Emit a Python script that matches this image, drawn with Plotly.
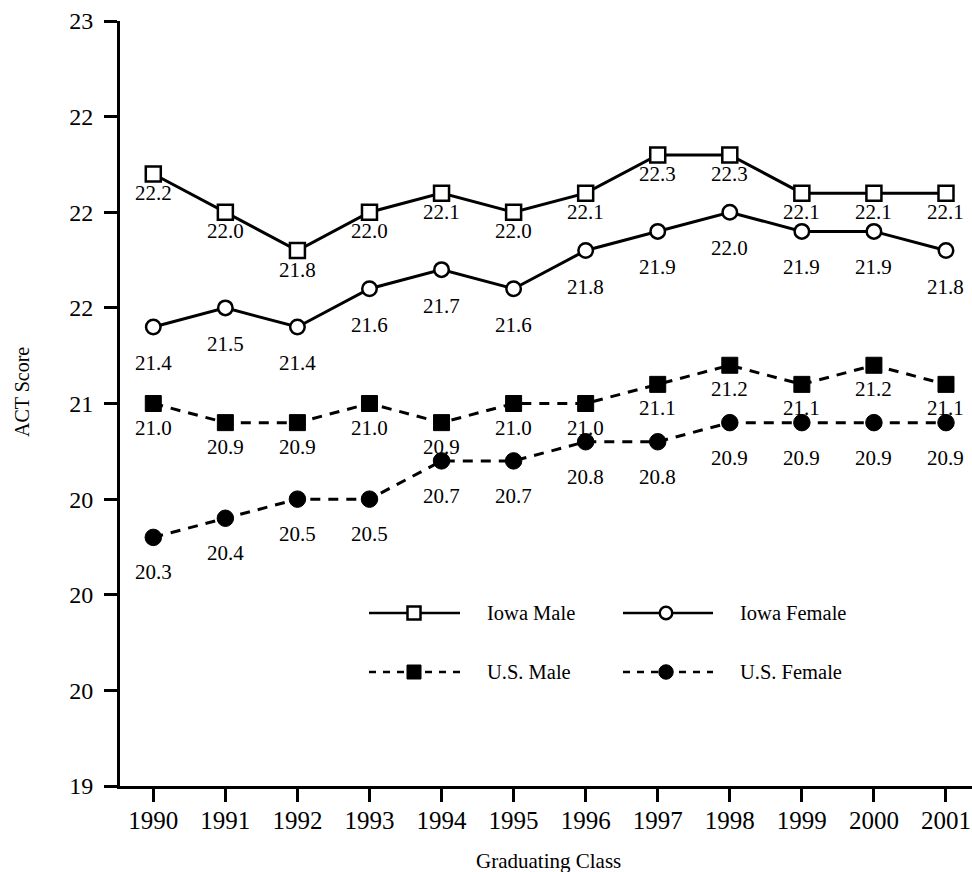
import plotly.graph_objects as go

# ---------------- data ----------------
years = [1990, 1991, 1992, 1993, 1994, 1995, 1996, 1997, 1998, 1999, 2000, 2001]
iowa_male = [22.2, 22.0, 21.8, 22.0, 22.1, 22.0, 22.1, 22.3, 22.3, 22.1, 22.1, 22.1]
iowa_female = [21.4, 21.5, 21.4, 21.6, 21.7, 21.6, 21.8, 21.9, 22.0, 21.9, 21.9, 21.8]
us_male = [21.0, 20.9, 20.9, 21.0, 20.9, 21.0, 21.0, 21.1, 21.2, 21.1, 21.2, 21.1]
us_female = [20.3, 20.4, 20.5, 20.5, 20.7, 20.7, 20.8, 20.8, 20.9, 20.9, 20.9, 20.9]

y_tick_vals = [19, 19.5, 20, 20.5, 21, 21.5, 22, 22.5, 23]
y_tick_text = ["19", "20", "20", "20", "21", "22", "22", "22", "23"]
x_tick_text = [str(y) for y in years]

series_names = ["Iowa Male", "Iowa Female", "U.S. Male", "U.S. Female"]

# ---------------- layout constants ----------------
W, H = 972, 872
PL, PR, PT, PB = 120, 972, 21, 786   # plot area on screen
ML, MT = PL, PT
MR = W - PR
MB = H - PB
FONT = "Liberation Serif, Times New Roman, serif"
X_RANGE = [1989.538, 2001.361]
Y_RANGE = [19, 23]


def paper_x(sx):
    return (sx - PL) / (PR - PL)


def paper_y(sy):
    return (PB - sy) / (PB - PT)


styles = [
    dict(dash="solid", symbol="square", fill="white", size=15, lw=2.5, shift=19),
    dict(dash="solid", symbol="circle", fill="white", size=14.5, lw=2.5, shift=36),
    dict(dash="10px,8px", symbol="square", fill="black", size=16, lw=1, shift=24),
    dict(dash="10px,8px", symbol="circle", fill="black", size=16.5, lw=1, shift=35),
]
series_vals = [iowa_male, iowa_female, us_male, us_female]

fig = go.Figure()

annotations = []
for name, vals, st in zip(series_names, series_vals, styles):
    fig.add_trace(go.Scatter(
        x=years, y=vals, mode="lines+markers", name=name, showlegend=False,
        line=dict(color="black", width=3, dash=st["dash"]),
        marker=dict(symbol=st["symbol"], size=st["size"], color=st["fill"],
                    line=dict(color="black", width=st["lw"])),
        cliponaxis=False,
    ))
    for xv, yv in zip(years, vals):
        annotations.append(dict(
            x=xv, y=yv, xref="x", yref="y", text=f"{yv:.1f}", showarrow=False,
            yshift=-st["shift"], xanchor="center", yanchor="middle",
            font=dict(family=FONT, size=21, color="black"),
        ))

# ---------------- custom legend (screen pixel coordinates on overlay axes) ----------------
leg_rows = [613, 672]
leg_cols = [(369, 414, 460, 485), (623, 666, 713, 738)]
for i, (name, st) in enumerate(zip(series_names, styles)):
    row = leg_rows[i // 2]
    x0, xm, x1, xt = leg_cols[i % 2]
    fig.add_trace(go.Scatter(
        x=[x0, x1], y=[row, row], xaxis="x2", yaxis="y2", mode="lines",
        line=dict(color="black", width=2.5,
                  dash="solid" if st["dash"] == "solid" else "7px,7px"),
        showlegend=False, hoverinfo="skip",
    ))
    fig.add_trace(go.Scatter(
        x=[xm], y=[row], xaxis="x2", yaxis="y2", mode="markers",
        marker=dict(symbol=st["symbol"], size=st["size"] - 2, color=st["fill"],
                    line=dict(color="black", width=st["lw"])),
        showlegend=False, hoverinfo="skip",
    ))
    annotations.append(dict(
        x=xt, y=row, xref="x2", yref="y2", text=name, showarrow=False,
        xanchor="left", yanchor="middle",
        font=dict(family=FONT, size=20.5, color="black"),
    ))

# axis titles
annotations.append(dict(
    x=paper_x(548), y=paper_y(861), xref="paper", yref="paper", text="Graduating Class",
    showarrow=False, xanchor="center", yanchor="middle",
    font=dict(family=FONT, size=21, color="black"),
))
annotations.append(dict(
    x=paper_x(22), y=paper_y(392), xref="paper", yref="paper", text="ACT Score",
    showarrow=False, textangle=-90, xanchor="center", yanchor="middle",
    font=dict(family=FONT, size=20, color="black"),
))

fig.update_layout(
    width=W, height=H,
    margin=dict(l=ML, r=MR, t=MT, b=MB, pad=0),
    paper_bgcolor="white", plot_bgcolor="white",
    font=dict(family=FONT, color="black"),
    annotations=annotations,
    xaxis=dict(
        range=X_RANGE, tickmode="array", tickvals=years, ticktext=x_tick_text,
        showgrid=False, zeroline=False, showline=True, linecolor="black", linewidth=3,
        ticks="outside", ticklen=13, tickwidth=3, tickcolor="black",
        tickfont=dict(family=FONT, size=25, color="black"), ticklabelstandoff=-3,
        fixedrange=True,
    ),
    yaxis=dict(
        range=Y_RANGE, tickmode="array", tickvals=y_tick_vals, ticktext=y_tick_text,
        showgrid=False, zeroline=False, showline=True, linecolor="black", linewidth=3,
        ticks="outside", ticklen=13, tickwidth=3, tickcolor="black",
        tickfont=dict(family=FONT, size=24, color="black"), ticklabelstandoff=6,
        fixedrange=True,
    ),
    xaxis2=dict(overlaying="x", range=[PL, PR], visible=False, fixedrange=True),
    yaxis2=dict(overlaying="y", range=[PB, PT], visible=False, fixedrange=True),
    showlegend=False,
)

fig.write_html(
    "out.html",
    config={"displayModeBar": False},
    post_script="document.body.style.margin='0';document.body.style.overflow='hidden';",
)
